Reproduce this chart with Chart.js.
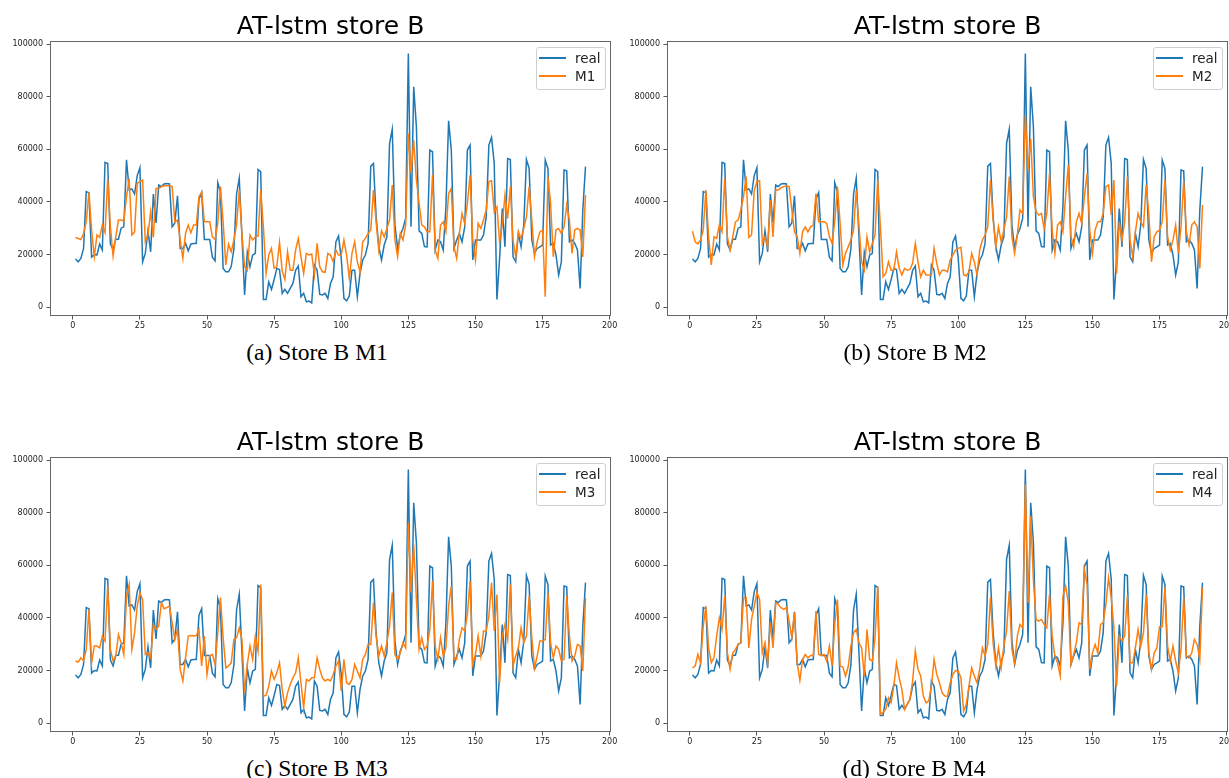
<!DOCTYPE html>
<html>
<head>
<meta charset="utf-8">
<title>AT-lstm store B</title>
<script src="https://cdn.jsdelivr.net/npm/chart.js@4.4.0/dist/chart.umd.min.js"></script>
<style>
  html, body { margin: 0; padding: 0; background: #fff; }
  #page { position: relative; width: 1229px; height: 778px; overflow: hidden; }
  .panel { position: absolute; width: 625px; height: 380px; }
  .panel canvas { position: absolute; left: 0; top: 0; }
  .legend {
    position: absolute; left: 536px; top: 47px; width: 68px; height: 41px;
    border: 1px solid #d0d0d0; border-radius: 3px; background: rgba(255,255,255,0.85);
    font-family: 'DejaVu Sans'; font-size: 13.5px; color: #222;
  }
  .legend .row { position: absolute; left: 0; width: 68px; height: 20px; }
  .legend .swatch { position: absolute; left: 2px; top: 9px; width: 27px; height: 2px; }
  .legend .txt { position: absolute; left: 38px; top: 0; line-height: 20px; }
  .caption {
    position: absolute; top: 340px; transform: translateX(-50%); white-space: nowrap;
    font-family: 'Liberation Serif'; font-size: 23.5px; line-height: 24px; color: #000;
  }
</style>
</head>
<body>
<div id="page"></div>
<script>
// values for day 1..191
const real = [
  18300, 17200, 18500, 22300, 43900, 43500, 19000, 20000, 19800, 24000,
  21700, 55000, 54600, 24000, 21700, 25800, 25800, 30000, 30500, 56000,
  44500, 44900, 43000, 50000, 53000, 17200, 20400, 29000, 21000, 43000,
  32000, 46400, 45800, 46800, 47000, 46800, 30500, 32000, 42300, 22300,
  22300, 24200, 21400, 24000, 24200, 24200, 41000, 43500, 25700, 25700,
  25700, 19000, 17600, 47300, 43800, 14700, 13400, 13400, 15300, 22000,
  43000, 49000, 27000, 4600, 20800, 15300, 19800, 20400, 52300, 51500,
  2900, 2900, 9600, 6700, 10500, 14700, 14300, 5200, 6700, 5200,
  7100, 9000, 14000, 15600, 3900, 5200, 2000, 2300, 1600, 16000,
  14000, 4800, 4600, 5200, 3300, 9000, 11500, 24800, 27000, 18500,
  3300, 2400, 4200, 14000, 14000, 3900, 12800, 17900, 19800, 24200,
  53600, 54600, 34300, 22900, 17900, 23600, 26700, 62200, 67600, 31200,
  22300, 27400, 29900, 33700, 96400, 30500, 83800, 68600, 29000, 28000,
  23000, 22900, 59700, 59100, 21700, 25500, 24800, 21700, 38100, 70800,
  59700, 22300, 25500, 28000, 24800, 30500, 59700, 61600, 17900, 25500,
  25500, 25500, 27400, 34300, 61600, 64500, 54600, 2900, 18500, 37500,
  22900, 56500, 56100, 19100, 17200, 28000, 22900, 31200, 56100, 52700,
  25500, 20400, 22300, 22900, 23600, 55900, 52700, 23600, 24200, 19800,
  12200, 17200, 52100, 51800, 24800, 25500, 24200, 21700, 7100, 36900,
  53400
];

const m1 = [
  26500, 26100, 25700, 28000, 32400, 43500, 29300, 19100, 27400, 26500,
  31200, 28300, 48900, 30500, 19400, 26700, 33100, 33100, 32700, 42000,
  48900, 27400, 28600, 47000, 47700, 48300, 24800, 27400, 36200, 26500,
  45100, 45100, 45800, 46100, 46100, 46100, 45800, 32400, 33100, 25500,
  18500, 28000, 31200, 28300, 31200, 31200, 42000, 43800, 32400, 32400,
  32400, 26700, 25700, 31800, 45800, 32400, 16000, 24000, 21000, 25500,
  31200, 44500, 28000, 15300, 14000, 27400, 25500, 26700, 27000, 44500,
  30500, 12800, 19800, 22300, 14700, 15300, 24600, 13800, 10500, 21000,
  14000, 14000, 21700, 26100, 19100, 12800, 20400, 19800, 20200, 12200,
  24200, 15300, 13400, 13200, 20400, 19800, 17200, 21700, 19800, 19800,
  25500, 19800, 10900, 20400, 24800, 17200, 13400, 24800, 26100, 28000,
  29300, 44500, 32400, 21700, 29000, 26700, 29900, 33100, 46400, 25500,
  19100, 28000, 25500, 31200, 66000, 50800, 63500, 48300, 39400, 31200,
  30500, 28600, 28600, 50200, 21700, 18500, 31200, 32400, 28600, 43200,
  45100, 22900, 18500, 28000, 35600, 31800, 39400, 50200, 25500, 17900,
  31800, 29900, 33100, 36900, 47700, 48000, 36200, 38100, 24800, 31200,
  42600, 33700, 45800, 25500, 19100, 28600, 26100, 29900, 34300, 45800,
  33100, 19100, 24800, 28600, 29300, 3900, 49600, 39400, 19100, 29300,
  29900, 28000, 30500, 38800, 33100, 20400, 29300, 29900, 29300, 19100,
  42600
];

const m2 = [
  28900, 24800, 24000, 25500, 29300, 44500, 26700, 16000, 26700, 26100,
  31200, 28600, 48900, 26700, 21700, 26700, 32400, 33100, 36900, 42000,
  49600, 26500, 27400, 44500, 47700, 48000, 24200, 26700, 22900, 40700,
  26700, 44500, 44500, 45400, 45800, 46000, 45800, 36900, 28600, 26700,
  20400, 28600, 30500, 28600, 30500, 31200, 43200, 32400, 32400, 32400,
  31800, 26700, 24200, 32400, 45800, 31800, 16000, 20400, 22900, 25500,
  29300, 44500, 31200, 17200, 14000, 26700, 21000, 24200, 27400, 48300,
  30500, 11500, 12800, 17200, 14000, 14000, 21000, 14700, 12200, 14700,
  14000, 14300, 16600, 24200, 17200, 11500, 14000, 12200, 12200, 12200,
  22300, 16600, 12200, 14000, 14000, 13400, 17900, 19800, 21700, 22300,
  22700, 12200, 11900, 13400, 20400, 17200, 12200, 21700, 25500, 27400,
  30500, 48300, 33100, 22900, 30500, 24800, 29300, 34300, 49600, 26700,
  20400, 27400, 36900, 35600, 73000, 52100, 64100, 42000, 36200, 35000,
  35600, 29900, 35600, 50800, 29300, 20400, 31200, 32400, 28600, 42000,
  54000, 26700, 22900, 32400, 35600, 31800, 42000, 50800, 29300, 20400,
  29300, 32400, 32400, 35600, 45800, 46400, 35000, 48300, 12800, 32400,
  25500, 32400, 49600, 25500, 19100, 28600, 35600, 32400, 30500, 46400,
  35600, 17200, 26700, 28600, 29300, 32400, 48300, 26700, 21700, 25500,
  31200, 20400, 30500, 47700, 28600, 23600, 31200, 32400, 30500, 14700,
  38800
];

const m3 = [
  23600, 23200, 24800, 23600, 28000, 43200, 22900, 29300, 29300, 28600,
  33100, 31200, 52100, 28000, 23600, 25500, 33700, 30500, 26100, 48300,
  52700, 28000, 34300, 44500, 49600, 46800, 26100, 26700, 24800, 37500,
  35600, 36900, 45800, 43500, 43900, 44500, 38100, 31800, 35600, 20400,
  16000, 24800, 33100, 33300, 33100, 33300, 35600, 21700, 33100, 18500,
  25500, 26100, 22300, 34300, 47700, 32400, 21000, 21700, 22900, 31800,
  32400, 36200, 31800, 11500, 22300, 29300, 24200, 33100, 27400, 52700,
  10300, 10500, 14000, 19800, 16600, 19100, 22900, 12800, 6500, 11500,
  14700, 17200, 19100, 24800, 15300, 5800, 16600, 16000, 17200, 17200,
  24800, 20400, 17200, 16000, 16600, 16000, 18500, 21700, 23600, 12200,
  24200, 15300, 14700, 16600, 22300, 19800, 17200, 24200, 26100, 29900,
  29900, 45800, 33100, 25500, 29300, 25500, 30500, 36900, 49600, 26100,
  24200, 26700, 30500, 28600, 76200, 49600, 67900, 47000, 28000, 32400,
  28000, 29300, 35600, 54000, 29300, 24200, 32400, 25500, 28600, 44500,
  52100, 24200, 24200, 31800, 36200, 35000, 41300, 54000, 22300, 26100,
  33100, 25500, 35000, 35000, 40700, 53400, 35000, 48900, 15300, 33100,
  37500, 31800, 52700, 21700, 25500, 28600, 36200, 30500, 33100, 48300,
  32400, 21000, 25500, 31200, 31200, 31800, 49600, 30500, 24800, 29300,
  28000, 23600, 24200, 48300, 33100, 23600, 25500, 29900, 29300, 19800,
  47700
];

const m4 = [
  21000, 21700, 26100, 22900, 36900, 44500, 28600, 22900, 24800, 33100,
  40000, 35600, 48300, 26700, 20400, 26700, 28000, 29900, 30500, 47700,
  47700, 28600, 39400, 44500, 49600, 47000, 26700, 30500, 22900, 38100,
  28600, 45800, 45100, 43900, 43200, 43900, 38800, 32400, 42000, 22900,
  16300, 24000, 26100, 24800, 25700, 25700, 42600, 26100, 25700, 26100,
  23600, 29300, 21700, 37500, 47000, 21700, 21300, 17900, 21400, 29300,
  34300, 35600, 30500, 28600, 17900, 35600, 24200, 23600, 32400, 52100,
  3300, 4200, 5200, 9600, 7700, 14000, 22900, 17200, 12800, 5200,
  7100, 9000, 16000, 27400, 20400, 17900, 10300, 7700, 8400, 14000,
  24200, 18500, 15300, 11500, 10300, 10200, 15300, 18500, 20000, 19800,
  17200, 4600, 7100, 14000, 21000, 17900, 15300, 20400, 28600, 25500,
  29900, 47700, 30500, 21700, 28600, 21000, 29300, 35000, 50200, 28000,
  22900, 33100, 37500, 36200, 90700, 45800, 78700, 54600, 39400, 38800,
  39400, 37500, 36200, 48900, 33100, 25500, 22900, 17900, 48300, 52100,
  45800, 22300, 26100, 30500, 38100, 37500, 58400, 52700, 20400, 26700,
  29900, 26700, 37500, 38100, 45100, 55300, 47700, 36200, 14000, 33100,
  31200, 33100, 48300, 22900, 22900, 28600, 35600, 29300, 34300, 48900,
  26700, 20400, 26700, 28600, 36600, 36600, 51500, 29300, 23600, 29300,
  23600, 19100, 28000, 47700, 25500, 24800, 26700, 31800, 29900, 24200,
  51500
];

const xTicks = [0, 25, 50, 75, 100, 125, 150, 175, 200];
const yTicks = [0, 20000, 40000, 60000, 80000, 100000];
const titleText = 'AT-lstm store B';

const panels = [
  { model: m1, name: 'M1', caption: '(a) Store B M1', left: 0, top: 0, capX: 317 },
  { model: m2, name: 'M2', caption: '(b) Store B M2', left: 617, top: 0, capX: 298 },
  { model: m3, name: 'M3', caption: '(c) Store B M3', left: 0, top: 416, capX: 317 },
  { model: m4, name: 'M4', caption: '(d) Store B M4', left: 617, top: 416, capX: 297 }
];

const BLUE = '#1f77b4';
const ORANGE = '#ff7f0e';

Chart.defaults.font.family = 'DejaVu Sans';

// axes box all round, like matplotlib spines
const frame = {
  id: 'frame',
  afterDatasetsDraw(chart) {
    const a = chart.chartArea;
    const ctx = chart.ctx;
    ctx.save();
    ctx.strokeStyle = '#666';
    ctx.lineWidth = 1;
    ctx.strokeRect(Math.round(a.left) + 0.5, Math.round(a.top) - 0.5,
      Math.round(a.right - a.left) - 1, Math.round(a.bottom - a.top));
    ctx.restore();
  }
};

function pts(values) {
  return values.map((v, i) => ({ x: i + 1, y: v }));
}

const page = document.getElementById('page');

panels.forEach(p => {
  const box = document.createElement('div');
  box.className = 'panel';
  box.style.left = p.left + 'px';
  box.style.top = p.top + 'px';
  page.appendChild(box);

  const canvas = document.createElement('canvas');
  canvas.width = 625;
  canvas.height = 336;
  canvas.style.width = '625px';
  canvas.style.height = '336px';
  box.appendChild(canvas);

  const datasets = [
    { label: 'real', data: pts(real), borderColor: BLUE, borderWidth: 1.5, pointRadius: 0, order: 1 },
    { label: p.name, data: pts(p.model), borderColor: ORANGE, borderWidth: 1.5, pointRadius: 0, order: 0 }
  ];

  new Chart(canvas, {
    type: 'line',
    data: { datasets: datasets },
    options: {
      responsive: false,
      animation: false,
      events: [],
      layout: { padding: { left: 0, right: 14, top: 0, bottom: 0 } },
      plugins: {
        legend: { display: false },
        tooltip: { enabled: false },
        title: {
          display: true,
          text: titleText,
          fullSize: false,
          color: '#000',
          font: { size: 25, weight: 'normal', lineHeight: 1.16 },
          padding: { top: 13, bottom: 0 }
        }
      },
      scales: {
        x: {
          type: 'linear',
          min: -8.5,
          max: 200.5,
          afterBuildTicks: s => { s.ticks = xTicks.map(v => ({ value: v })); },
          afterFit: s => { s.height = 20; s.paddingLeft = 0; s.paddingRight = 0; },
          grid: { drawOnChartArea: false, tickLength: 3.5, color: '#555' },
          border: { display: false },
          ticks: { padding: 1.5, color: '#222', font: { size: 8 }, maxRotation: 0, autoSkip: false, callback: v => String(v) }
        },
        y: {
          min: -3400,
          max: 100800,
          afterBuildTicks: s => { s.ticks = yTicks.map(v => ({ value: v })); },
          afterFit: s => { s.width = 50; s.paddingTop = 0; s.paddingBottom = 0; },
          grid: { drawOnChartArea: false, tickLength: 3.5, color: '#555' },
          border: { display: false },
          ticks: { padding: 3.5, color: '#222', font: { size: 8 }, autoSkip: false, callback: v => String(v) }
        }
      }
    },
    plugins: [frame]
  });

  // legend box inside the axes, top right
  const leg = document.createElement('div');
  leg.className = 'legend';
  datasets.forEach((d, i) => {
    const row = document.createElement('div');
    row.className = 'row';
    row.style.top = (i === 0 ? 0 : 18) + 'px';
    const sw = document.createElement('div');
    sw.className = 'swatch';
    sw.style.background = d.borderColor;
    const tx = document.createElement('div');
    tx.className = 'txt';
    tx.textContent = d.label;
    row.appendChild(sw);
    row.appendChild(tx);
    leg.appendChild(row);
  });
  box.appendChild(leg);

  const cap = document.createElement('div');
  cap.className = 'caption';
  cap.style.left = p.capX + 'px';
  cap.textContent = p.caption;
  box.appendChild(cap);
});
</script>
</body>
</html>
